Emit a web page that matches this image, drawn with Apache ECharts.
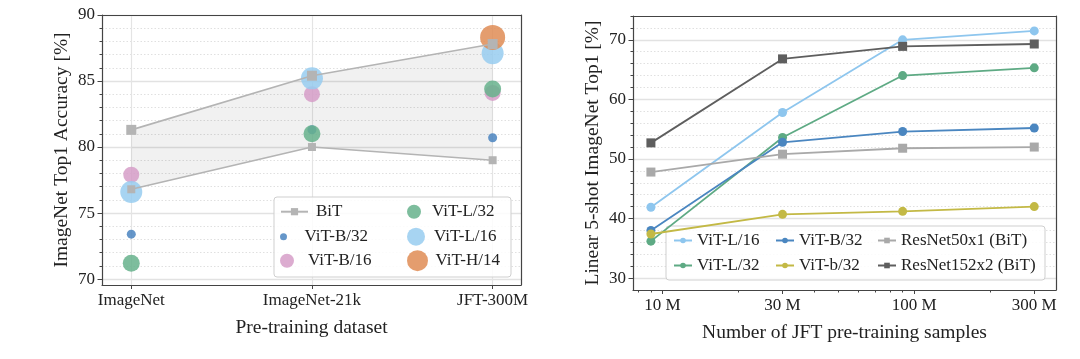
<!DOCTYPE html>
<html><head><meta charset="utf-8">
<script src="https://cdn.jsdelivr.net/npm/echarts@6/dist/echarts.min.js"></script>
<style>html,body{margin:0;padding:0;background:#fff}#c{width:1080px;height:359px}</style>
</head><body><div id="c"></div>
<script>
// ---------- Left chart data ----------
const datasets = ['ImageNet', 'ImageNet-21k', 'JFT-300M'];
const bitUpper = [81.3, 85.4, 87.8];
const bitLower = [76.8, 80.0, 79.0];
const vitB32 = [73.4, 81.3, 80.7];
const vitB16 = [77.9, 84.0, 84.1];
const vitL32 = [71.2, 81.0, 84.4];
const vitL16 = [76.6, 85.2, 87.1];
const vitH14 = [null, null, 88.3];
const leftYTicks = [70, 75, 80, 85, 90];

// ---------- Right chart data ----------
const samples = [9, 30, 90, 300]; // millions of JFT images
const xTickValues = [10, 30, 100, 300];
const xTickLabels = ['10 M', '30 M', '100 M', '300 M'];
const xMinorTicks = [8, 9, 20, 40, 50, 60, 70, 80, 90, 200];
const fsL16 = [41.9, 57.8, 70.0, 71.5];
const fsL32 = [36.2, 53.6, 64.0, 65.3];
const fsB32 = [38.0, 52.8, 54.6, 55.2];
const fsb32 = [37.4, 40.7, 41.2, 42.0];
const fsR50 = [47.8, 50.8, 51.8, 52.0];
const fsR152 = [52.7, 66.8, 68.9, 69.3];
const rightYTicks = [30, 40, 50, 60, 70];

// ---------- helpers ----------
const FONT = 'Liberation Serif';
const AX = '#444';
function minorBetween(majors, step, lo, hi) {
  const out = [];
  for (let v = lo; v <= hi + 1e-9; v += step) {
    const r = Math.round(v * 100) / 100;
    if (!majors.some(m => Math.abs(m - r) < 1e-6)) out.push(r);
  }
  return out;
}
const leftYMinor = minorBetween(leftYTicks, 1, 70, 90);
const rightYMinor = minorBetween(rightYTicks, 2, 30, 74);
const pairs = (xs, ys) => ys.map((v, i) => v == null ? null : [xs[i], v]).filter(d => d);
const idx = datasets.map((d, i) => i);

const chart = echarts.init(document.getElementById('c'), null, {renderer: 'canvas'});

function lineOnly(gridIndex, position, extra) {
  return Object.assign({
    gridIndex, position, type: 'value', min: 0, max: 1,
    axisLine: {show: true, onZero: false, lineStyle: {color: AX, width: 1.2}},
    axisTick: {show: false}, axisLabel: {show: false}, splitLine: {show: false}
  }, extra || {});
}

const colors = {
  B32: '#4a84c0', B16: '#d69dc8', L32: '#66b18c', L16: '#98cdf0', H14: '#df8c55',
  rL16: '#8ec6ee', rB32: '#4a86c0', rL32: '#5eaa84', rb32: '#c3b945', rR50: '#a9a9a9', rR152: '#5e5e5e'
};

function scatter(name, vals, color, size) {
  return {
    name, type: 'scatter', xAxisIndex: 0, yAxisIndex: 0,
    data: pairs(idx, vals), symbolSize: size, z: 3,
    itemStyle: {color, opacity: 0.85}
  };
}
function fsLine(name, vals, color, symbol) {
  return {
    name, type: 'line', xAxisIndex: 2, yAxisIndex: 3,
    data: pairs(samples, vals), symbol, symbolSize: 9, showSymbol: true,
    lineStyle: {color, width: 1.8}, itemStyle: {color}, z: 3
  };
}

function itemLegend(name, left, cy, w, h, pad) {
  const lh = 17;
  return {
    data: [name], left, top: cy - Math.max(h, lh) / 2, orient: 'vertical',
    itemWidth: w, itemHeight: h, padding: 0, selectedMode: false,
    textStyle: {fontFamily: FONT, fontSize: 17, color: '#222', lineHeight: lh, padding: [0, 0, 0, pad || 0]}
  };
}
function colLegend(names, left, top) {
  return {
    data: names, left, top, orient: 'vertical', itemGap: 8,
    itemWidth: 18, itemHeight: 7, padding: 0, selectedMode: false,
    textStyle: {fontFamily: FONT, fontSize: 17, color: '#222', lineHeight: 17}
  };
}

const rows = [211.7, 236.7, 260.7];

const option = {
  animation: false,
  backgroundColor: '#fff',
  textStyle: {fontFamily: FONT, color: '#222'},
  grid: [
    {left: 102, right: 559, top: 15, bottom: 74},
    {left: 633, right: 24, top: 16, bottom: 69}
  ],
  graphic: [
    {type: 'rect', z: 3, shape: {x: 274, y: 197, width: 237, height: 80, r: 3},
     style: {fill: 'rgba(255,255,255,0.85)', stroke: '#cfcfcf', lineWidth: 1}},
    {type: 'rect', z: 3, shape: {x: 666, y: 226, width: 379, height: 54, r: 3},
     style: {fill: 'rgba(255,255,255,0.85)', stroke: '#cfcfcf', lineWidth: 1}}
  ],
  legend: [
    itemLegend('BiT', 280, rows[0], 27, 9, 3),
    itemLegend('ViT-B/32', 280, rows[1], 26, 7, 3),
    itemLegend('ViT-B/16', 280, rows[2], 26, 14, 3),
    itemLegend('ViT-L/32', 407, rows[0], 26, 14, 0),
    itemLegend('ViT-L/16', 407, rows[1], 26, 18, 0),
    itemLegend('ViT-H/14', 407, rows[2], 26, 21, 0),
    colLegend(['ViT-L/16 ', 'ViT-L/32 '], 673, 232),
    colLegend(['ViT-B/32 ', 'ViT-b/32'], 775, 232),
    colLegend(['ResNet50x1 (BiT)', 'ResNet152x2 (BiT)'], 877, 232)
  ],
  xAxis: [
    { // 0 left main
      gridIndex: 0, type: 'value', min: -0.162, max: 2.157, position: 'bottom',
      name: 'Pre-training dataset', nameLocation: 'middle', nameGap: 33,
      nameTextStyle: {fontFamily: FONT, fontSize: 19.5, color: '#222'},
      axisLine: {show: true, onZero: false, lineStyle: {color: AX, width: 1.2}},
      axisTick: {show: true, customValues: idx, length: 4, lineStyle: {color: AX}},
      axisLabel: {show: true, customValues: idx, formatter: v => datasets[Math.round(v)], fontSize: 17, color: '#222', margin: 7, fontFamily: FONT},
      splitLine: {show: true, lineStyle: {color: '#e4e4e4', width: 1.2}}
    },
    lineOnly(0, 'top'), // 1
    { // 2 right main (log)
      gridIndex: 1, type: 'log', logBase: 10, min: 7.64, max: 366, position: 'bottom',
      name: 'Number of JFT pre-training samples', nameLocation: 'middle', nameGap: 33,
      nameTextStyle: {fontFamily: FONT, fontSize: 19.5, color: '#222'},
      axisLine: {show: true, onZero: false, lineStyle: {color: AX, width: 1.2}},
      axisTick: {show: true, customValues: xTickValues, length: 4, lineStyle: {color: AX}},
      axisLabel: {show: true, customValues: xTickValues, fontSize: 17, color: '#222', margin: 7, fontFamily: FONT,
        formatter: v => { const i = xTickValues.findIndex(t => Math.abs(t - v) < 1e-6 * t); return i >= 0 ? xTickLabels[i] : ''; }},
      splitLine: {show: false}
    },
    { // 3 right minor ticks
      gridIndex: 1, type: 'log', logBase: 10, min: 7.64, max: 366, position: 'bottom', offset: 0,
      axisLine: {show: false, onZero: false},
      axisTick: {show: true, customValues: xMinorTicks, length: 2.5, lineStyle: {color: AX}},
      axisLabel: {show: false}, splitLine: {show: false}
    },
    lineOnly(1, 'top') // 4
  ],
  yAxis: [
    { // 0 left main
      gridIndex: 0, type: 'value', min: 69.55, max: 90, position: 'left',
      name: 'ImageNet Top1 Accuracy [%]', nameLocation: 'middle', nameGap: 30,
      nameTextStyle: {fontFamily: FONT, fontSize: 19.5, color: '#222'},
      axisLine: {show: true, onZero: false, lineStyle: {color: AX, width: 1.2}},
      axisTick: {show: true, customValues: leftYTicks, length: 4.5, lineStyle: {color: AX}},
      axisLabel: {show: true, customValues: leftYTicks, fontSize: 17, color: '#222', margin: 7, fontFamily: FONT},
      splitLine: {show: true, lineStyle: {color: '#e2e2e2', width: 1.3}}
    },
    { // 1 left minor
      gridIndex: 0, type: 'value', min: 69.55, max: 90, position: 'left', offset: 0,
      axisLine: {show: false, onZero: false},
      axisTick: {show: true, customValues: leftYMinor, length: 2.5, lineStyle: {color: AX}},
      axisLabel: {show: false},
      splitLine: {show: true, lineStyle: {color: '#d8d8d8', width: 0.8, type: [1.5, 2]}}
    },
    lineOnly(0, 'right'), // 2
    { // 3 right main
      gridIndex: 1, type: 'value', min: 28.0, max: 74.0, position: 'left',
      name: 'Linear 5-shot ImageNet Top1 [%]', nameLocation: 'middle', nameGap: 30,
      nameTextStyle: {fontFamily: FONT, fontSize: 19.5, color: '#222'},
      axisLine: {show: true, onZero: false, lineStyle: {color: AX, width: 1.2}},
      axisTick: {show: true, customValues: rightYTicks, length: 4.5, lineStyle: {color: AX}},
      axisLabel: {show: true, customValues: rightYTicks, fontSize: 17, color: '#222', margin: 7, fontFamily: FONT},
      splitLine: {show: true, lineStyle: {color: '#e2e2e2', width: 1.3}}
    },
    { // 4 right minor
      gridIndex: 1, type: 'value', min: 28.0, max: 74.0, position: 'left', offset: 0,
      axisLine: {show: false, onZero: false},
      axisTick: {show: true, customValues: rightYMinor, length: 2.5, lineStyle: {color: AX}},
      axisLabel: {show: false},
      splitLine: {show: true, lineStyle: {color: '#d8d8d8', width: 0.8, type: [1.5, 2]}}
    },
    lineOnly(1, 'right') // 5
  ],
  series: [
    { // BiT band (fill between lower and upper BiT results)
      name: 'BiT band', type: 'custom', xAxisIndex: 0, yAxisIndex: 0, silent: true, z: 1,
      data: pairs(idx, bitUpper),
      renderItem: (params, api) => {
        if (params.dataIndex !== 0) return null;
        const pts = [];
        for (let i = 0; i < bitUpper.length; i++) pts.push(api.coord([i, bitUpper[i]]));
        for (let i = bitLower.length - 1; i >= 0; i--) pts.push(api.coord([i, bitLower[i]]));
        return {type: 'polygon', shape: {points: pts}, style: {fill: 'rgba(0,0,0,0.055)'}};
      }
    },
    scatter('ViT-B/32', vitB32, colors.B32, 9),
    scatter('ViT-B/16', vitB16, colors.B16, 16),
    scatter('ViT-L/32', vitL32, colors.L32, 17),
    scatter('ViT-L/16', vitL16, colors.L16, 22),
    scatter('ViT-H/14', vitH14, colors.H14, 25),
    {
      name: 'BiT', type: 'line', xAxisIndex: 0, yAxisIndex: 0, z: 4,
      data: pairs(idx, bitUpper), symbol: 'rect', symbolSize: 10,
      lineStyle: {color: '#b4b4b4', width: 1.6}, itemStyle: {color: '#b4b4b4'}
    },
    {
      name: 'BiT', type: 'line', xAxisIndex: 0, yAxisIndex: 0, z: 4,
      data: pairs(idx, bitLower), symbol: 'rect', symbolSize: 8,
      lineStyle: {color: '#b4b4b4', width: 1.6}, itemStyle: {color: '#b4b4b4'}
    },
    fsLine('ViT-L/16 ', fsL16, colors.rL16, 'circle'),
    fsLine('ViT-L/32 ', fsL32, colors.rL32, 'circle'),
    fsLine('ViT-B/32 ', fsB32, colors.rB32, 'circle'),
    fsLine('ViT-b/32', fsb32, colors.rb32, 'circle'),
    fsLine('ResNet50x1 (BiT)', fsR50, colors.rR50, 'rect'),
    fsLine('ResNet152x2 (BiT)', fsR152, colors.rR152, 'rect')
  ]
};
chart.setOption(option);
</script>
</body></html>
